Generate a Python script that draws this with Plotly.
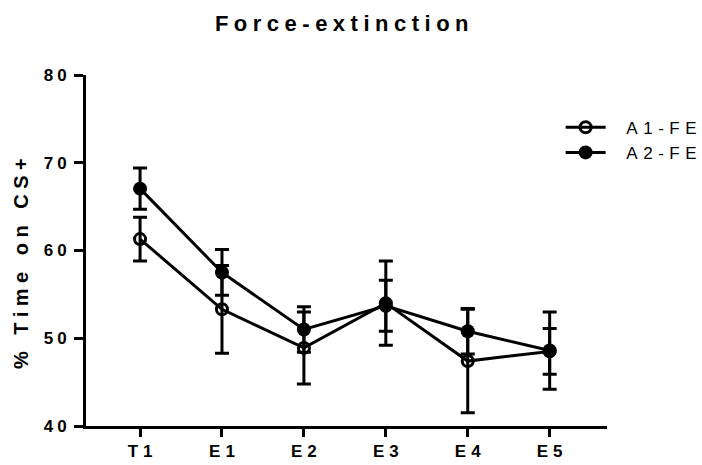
import plotly.graph_objects as go

# Session labels and group means / SEM (% time on CS+)
sessions = ["T1", "E1", "E2", "E3", "E4", "E5"]
a1_mean = [61.3, 53.3, 48.9, 54.0, 47.4, 48.5]
a1_sem = [2.5, 5.0, 4.1, 4.8, 5.9, 2.6]
a2_mean = [67.05, 57.5, 51.0, 53.7, 50.8, 48.6]
a2_sem = [2.35, 2.6, 2.6, 2.9, 2.6, 4.4]
y_ticks = [40, 50, 60, 70, 80]

FONT = "Liberation Sans, Arial, sans-serif"


def spaced(text, px):
    return f'<span style="letter-spacing:{px}px">{text}</span>'


def legend_name(text):
    # a widened leading gap between the legend symbol and its label
    return spaced("\u00a0", 11) + spaced(text, 5.5)


fig = go.Figure()

fig.add_trace(go.Scatter(
    x=sessions, y=a1_mean, name=legend_name("A1-FE"),
    mode="lines+markers",
    line=dict(color="black", width=3),
    marker=dict(symbol="circle-open", size=11, color="black",
                line=dict(width=3, color="black")),
    error_y=dict(type="data", array=a1_sem, visible=True,
                 color="black", thickness=3, width=7),
))

fig.add_trace(go.Scatter(
    x=sessions, y=a2_mean, name=legend_name("A2-FE"),
    mode="lines+markers",
    line=dict(color="black", width=3),
    marker=dict(symbol="circle", size=14, color="black"),
    error_y=dict(type="data", array=a2_sem, visible=True,
                 color="black", thickness=3, width=7),
))

fig.update_layout(
    width=702, height=465,
    margin=dict(l=86, r=95, t=75, b=39, autoexpand=False),
    paper_bgcolor="white", plot_bgcolor="white",
    font=dict(family=FONT, color="black"),
    title=dict(text="<b>" + spaced("Force-extinction", 5.5) + "</b>",
               x=0.4907, xanchor="center", xref="container",
               y=0.95, yanchor="middle", yref="container",
               font=dict(size=22, family=FONT, color="black")),
    showlegend=True,
    legend=dict(x=0.911, xanchor="left", y=0.901, yanchor="top",
                yref="paper", bgcolor="rgba(0,0,0,0)",
                font=dict(size=17, family=FONT, color="black"),
                itemwidth=40, tracegroupgap=0),
    annotations=[dict(
        text="<b>" + spaced("% Time on CS+", 5.5) + "</b>",
        xref="paper", yref="paper", x=-0.1248, y=0.47,
        xanchor="center", yanchor="middle", textangle=-90,
        showarrow=False, font=dict(size=20, family=FONT, color="black"),
    )],
)

fig.update_xaxes(
    type="category", range=[-0.66, 5.7], automargin=False,
    tickmode="array", tickvals=sessions,
    ticktext=["<b>" + spaced(s[0], 5) + spaced(s[1:], 0) + "</b>" for s in sessions],
    ticks="outside", ticklen=8, tickwidth=3, tickcolor="black",
    showline=True, linewidth=3, linecolor="black",
    showgrid=False, zeroline=False,
    tickfont=dict(size=17, family=FONT, color="black"),
)

fig.update_yaxes(
    range=[40, 80], tickmode="array", tickvals=y_ticks, automargin=False,
    ticktext=["<b>" + spaced(str(v), 4) + "</b>" for v in y_ticks],
    ticks="outside", ticklen=9, tickwidth=3, tickcolor="black",
    showline=True, linewidth=3, linecolor="black",
    showgrid=False, zeroline=False,
    tickfont=dict(size=17, family=FONT, color="black"),
)

fig.write_html("out.html")
